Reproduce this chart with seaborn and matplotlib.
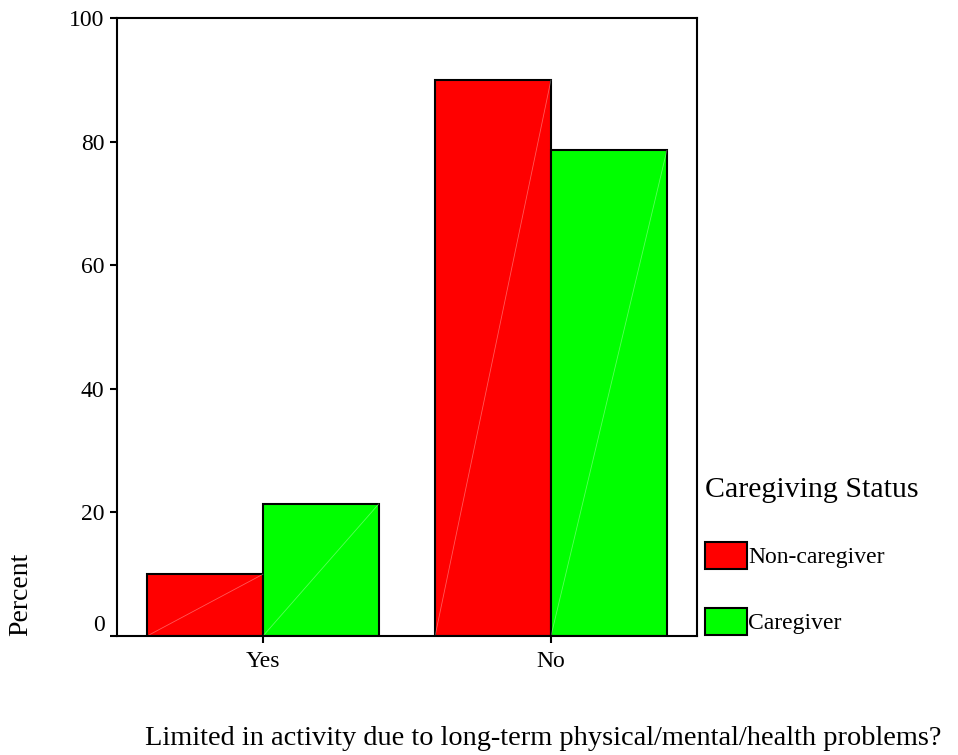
import pandas as pd
import matplotlib
matplotlib.use("Agg")
import matplotlib.pyplot as plt
import seaborn as sns

# values
categories = ["Yes", "No"]
status_order = ["Non-caregiver", "Caregiver"]
non_caregiver = [10.0, 90.0]
caregiver = [21.4, 78.6]
yticks = [0, 20, 40, 60, 80, 100]

df = pd.DataFrame({
    "limited": categories * 2,
    "status": [status_order[0]] * 2 + [status_order[1]] * 2,
    "percent": non_caregiver + caregiver,
})

sns.set_style("ticks")
plt.rcParams["font.family"] = ["Liberation Serif", "DejaVu Serif"]
plt.rcParams["text.color"] = "black"

fig = plt.figure(figsize=(9.58, 7.55), dpi=100)
ax = fig.add_axes([117 / 958, 1 - 636 / 755, 580 / 958, 618 / 755])

palette = {"Non-caregiver": "#ff0000", "Caregiver": "#00ff00"}
sns.barplot(data=df, x="limited", y="percent", hue="status", order=categories,
            hue_order=status_order, palette=palette, saturation=1, width=0.805,
            edgecolor="black", linewidth=1.5, errorbar=None, ax=ax)

# faint diagonal line inside each bar (rendering artefact of the original)
for p in ax.patches:
    if p.get_height() > 0:
        x0, y0 = p.get_x(), p.get_y()
        ax.plot([x0, x0 + p.get_width()], [y0, y0 + p.get_height()],
                color="white", alpha=0.35, lw=0.6, zorder=p.get_zorder() + 0.1)

ax.set_xlim(-0.507, 1.507)
ax.set_ylim(0, 100)
ax.set_yticks(yticks)
ax.set_yticklabels([str(t) for t in yticks])
ax.set_xlabel("")
ax.set_ylabel("")
for s in ax.spines.values():
    s.set_visible(True)
    s.set_linewidth(1.5)
    s.set_color("black")
ax.tick_params(axis="both", direction="out", length=5, width=1.5,
               labelsize=17, colors="black")
ax.tick_params(axis="y", pad=4)
ax.tick_params(axis="x", pad=6)
ax.get_yticklabels()[0].set_va("bottom")

fig.text(33 / 958, 1 - 636 / 755, "Percent", rotation=90, ha="right",
         va="bottom", fontsize=20)
fig.text(543 / 958, 1 - 745 / 755,
         "Limited in activity due to long-term physical/mental/health problems?",
         ha="center", va="baseline", fontsize=20.4)

handles, labels = ax.get_legend_handles_labels()
leg = ax.legend(handles, labels, title="Caregiving Status", loc="upper left",
                bbox_to_anchor=(705 / 958, 1 - 477 / 755),
                bbox_transform=fig.transFigure, frameon=False, fontsize=17,
                title_fontsize=21.5, alignment="left", borderpad=0,
                borderaxespad=0, handlelength=1.76, handleheight=1.38,
                handletextpad=0.08, labelspacing=1.65)
for t in leg.get_texts():
    t.set_color("black")
leg.get_title().set_color("black")

fig.savefig("out.png", dpi=100)
